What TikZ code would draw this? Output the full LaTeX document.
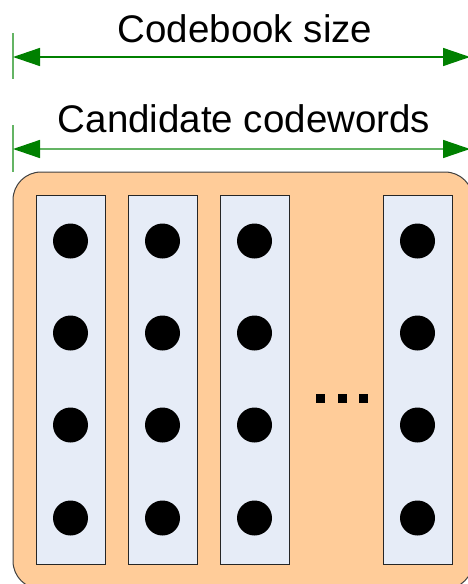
\documentclass[tikz,border=0pt]{standalone}
\usepackage{fontspec}
\setmainfont{Liberation Sans}
\usetikzlibrary{arrows.meta}
\definecolor{orfill}{RGB}{255,204,153}
\definecolor{colfill}{RGB}{230,236,247}
\definecolor{darkgr}{RGB}{0,128,0}
\definecolor{lightgr}{RGB}{100,180,100}
\tikzset{
  x=1pt,y=1pt,
  lbl/.style={font=\fontsize{38.5}{40}\selectfont, anchor=base, inner sep=0pt},
  dimarrow/.style={line width=1.5pt, {Triangle[length=27pt,width=18pt,fill=darkgr,color=darkgr]}-{Triangle[length=27pt,width=18pt,fill=darkgr,color=darkgr]}},
  tick/.style={lightgr, line width=1.5pt},
  colbox/.style={draw=black!85, fill=colfill, line width=1.3pt, minimum width=69pt, minimum height=369pt, inner sep=0pt, anchor=north west},
  dot/.style={circle, fill=black, minimum size=35pt, inner sep=0pt},
  sq/.style={fill=black, minimum size=9pt, inner sep=0pt}
}
\begin{document}
\begin{tikzpicture}
\useasboundingbox (0,0) rectangle (468,-584);
\clip (0,0) rectangle (468,-584);
% labels
\node[lbl] (t1) at (245,-42) {Codebook size};
\node[lbl] (t2) at (244,-132) {Candidate codewords};
% ticks
\coordinate (k1a) at (13,-33); \coordinate (k1b) at (13,-79);
\coordinate (k2a) at (13,-125); \coordinate (k2b) at (13,-172);
\draw[tick] (k1a) -- (k1b);
\draw[tick] (k2a) -- (k2b);
% arrows
\coordinate (a1l) at (13,-57); \coordinate (a1r) at (470,-57);
\coordinate (a2l) at (13,-149); \coordinate (a2r) at (470,-149);
\draw[dimarrow, draw=darkgr] (a1l) -- (a1r);
\draw[dimarrow, draw=lightgr] (a2l) -- (a2r);
% container
\draw[fill=orfill, draw=black!75, line width=1pt, rounded corners=28pt] (13,-172) rectangle (473,-589);
% columns
\foreach \n/\x in {1/36,2/128,3/220,5/383}{
  \node[colbox] (c\n) at (\x,-195) {};
  \foreach \r/\y in {1/241,2/333,3/425,4/518}{
    \node[dot] (d\n\r) at (\x+34.5,-\y) {};
  }
}
% ellipsis
\node[sq] (s1) at (320.5,-398) {};
\node[sq] (s2) at (342,-398) {};
\node[sq] (s3) at (363.5,-398) {};
\end{tikzpicture}
\end{document}
